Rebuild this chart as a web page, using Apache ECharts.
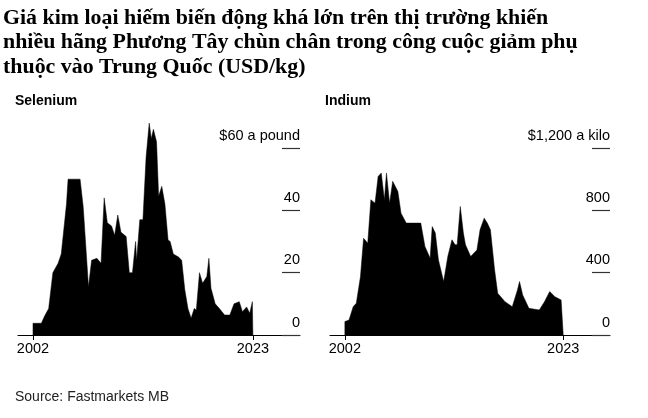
<!DOCTYPE html>
<html><head><meta charset="utf-8">
<script src="https://cdn.jsdelivr.net/npm/echarts@6/dist/echarts.min.js"></script>
<style>html,body{margin:0;padding:0;background:#fff}#c{width:648px;height:418px}</style>
</head><body><div id="c"></div>
<script>
const seYears = [2002.0,2002.8,2003.1,2003.5,2003.9,2004.4,2004.7,2005.2,2005.35,2006.5,2006.8,2007.3,2007.6,2008.1,2008.5,2008.8,2009.1,2009.5,2009.8,2010.1,2010.4,2010.9,2011.2,2011.5,2011.8,2011.9,2012.2,2012.5,2012.8,2013.1,2013.3,2013.5,2013.8,2014.0,2014.3,2014.6,2014.9,2015.1,2015.4,2015.9,2016.2,2016.5,2016.8,2017.1,2017.4,2017.6,2017.9,2018.2,2018.6,2018.8,2019.0,2019.4,2019.8,2020.3,2020.8,2021.2,2021.7,2022.0,2022.4,2022.7,2022.95];
const seValues = [3.75,3.75,6,8.5,20,23,26,42,50,50,41,15.5,24,24.6,23,44,36,35,32,38.5,33,31.6,20,20,30,24,37,37,57,68,63,66,62,44.5,47.7,42,30.5,30,26,25,24,14.5,8.5,5.4,8.5,8,20,16.6,18.75,24.6,15,10,8.5,6.4,6.4,10,10.7,7.5,9,7,10.7];
const inYears = [2002.0,2002.4,2002.8,2003.1,2003.5,2003.8,2004.2,2004.5,2004.9,2005.2,2005.5,2005.8,2006.0,2006.3,2006.6,2007.1,2007.4,2007.9,2009.3,2009.7,2010.2,2010.4,2010.7,2011.0,2011.5,2011.9,2012.3,2012.6,2012.8,2013.1,2013.4,2013.6,2014.1,2014.7,2015.0,2015.4,2015.7,2016.0,2016.4,2016.7,2017.4,2018.1,2018.6,2018.8,2019.1,2019.7,2020.7,2021.2,2021.7,2022.2,2022.8,2022.95];
const inValues = [86,96,182,204,375,621,589,868,846,1018,1039,868,1039,846,986,921,782,718,718,568,493,696,654,482,343,504,611,579,579,825,654,579,504,546,675,750,718,675,418,268,214,182,289,343,257,171,161,214,279,246,225,220];
const xLabels = [2002, 2023];
const seTicks = [0,20,40,60];
const inTicks = [0,400,800,1200];

function pts(xs, ys){ const d=[[xs[0],0]]; xs.forEach((x,i)=>d.push([x,ys[i]])); d.push([2023,ys[ys.length-1]],[2023,0]); return d; }
const font = 'Liberation Sans, Arial, sans-serif';
function axes(idx, ticks, topLabel){
  const top = ticks[ticks.length-1];
  return {
    x:{gridIndex:idx,type:'value',min:2000.57,max:2027.5,
      axisLine:{lineStyle:{color:'#000',width:1}},
      axisTick:{show:true,customValues:xLabels,length:5,lineStyle:{color:'#000'}},
      axisLabel:{customValues:xLabels,color:'#000',fontSize:14.5,fontFamily:font,margin:6,formatter:v=>String(v)},
      splitLine:{show:false}},
    y:{gridIndex:idx,type:'value',min:0,max:top*72.2/60,position:'right',
      axisLine:{show:false},
      axisTick:{show:true,inside:true,length:18,customValues:ticks,lineStyle:{color:'#333',width:1.2}},
      axisLabel:{inside:true,margin:0,customValues:ticks,verticalAlign:'bottom',align:'right',color:'#000',fontSize:14.5,fontFamily:font,
        padding:[0,0,5,0],formatter:v=>v===top?topLabel:String(v)},
      splitLine:{show:false}}
  };
}
const a1=axes(0,seTicks,'$60 a pound'), a2=axes(1,inTicks,'$1,200 a kilo');
const chart = echarts.init(document.getElementById('c'));
chart.setOption({
  animation:false,
  title:[
    {text:'Giá kim loại hiếm biến động khá lớn trên thị trường khiến\nnhiều hãng Phương Tây chùn chân trong công cuộc giảm phụ\nthuộc vào Trung Quốc (USD/kg)',left:3,top:6,padding:0,
      textStyle:{fontFamily:'Liberation Serif, serif',fontWeight:'bold',fontSize:21.9,lineHeight:24.5,color:'#000'}},
    {text:'Selenium',left:15,top:94,padding:0,textStyle:{fontFamily:font,fontWeight:'bold',fontSize:14,color:'#000'}},
    {text:'Indium',left:325,top:94,padding:0,textStyle:{fontFamily:font,fontWeight:'bold',fontSize:14,color:'#000'}},
    {text:'Source: Fastmarkets MB',left:15,top:390,padding:0,textStyle:{fontFamily:font,fontWeight:'normal',fontSize:14,color:'#222'}}
  ],
  grid:[{left:18,width:282,top:110,height:225},{left:330,width:280,top:110,height:225}],
  xAxis:[a1.x,a2.x], yAxis:[a1.y,a2.y],
  series:[
    {type:'line',xAxisIndex:0,yAxisIndex:0,data:pts(seYears,seValues),symbol:'none',lineStyle:{color:'#000',width:0.5},areaStyle:{color:'#000',opacity:1},z:1},
    {type:'line',xAxisIndex:1,yAxisIndex:1,data:pts(inYears,inValues),symbol:'none',lineStyle:{color:'#000',width:0.5},areaStyle:{color:'#000',opacity:1},z:1}
  ]
});
</script></body></html>
